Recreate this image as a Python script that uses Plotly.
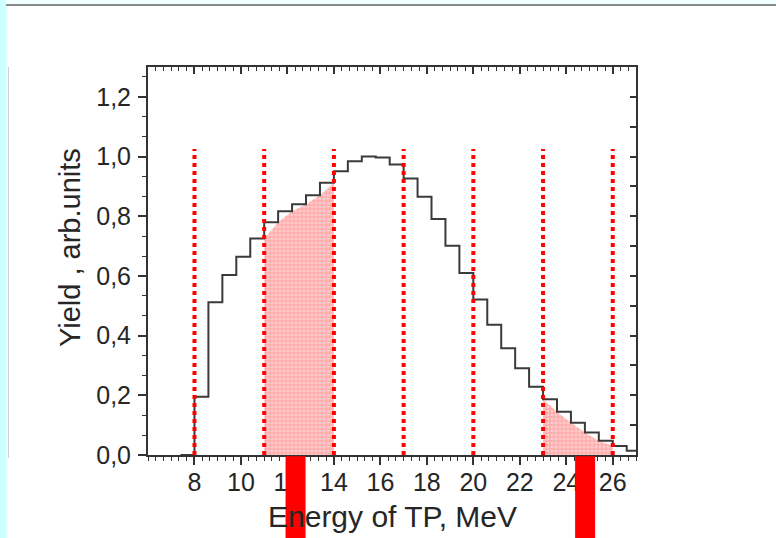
import numpy as np
import plotly.graph_objects as go

# ---------------- data ----------------
BIN_LEFT_EDGES = [8.0, 8.6, 9.2, 9.8, 10.4, 11.0, 11.6, 12.2, 12.8, 13.4,
                  14.0, 14.6, 15.2, 15.8, 16.4, 17.0, 17.6, 18.2, 18.8, 19.4,
                  20.0, 20.6, 21.2, 21.8, 22.4, 23.0, 23.6, 24.2, 24.8, 25.4,
                  26.0, 26.6]
BIN_WIDTH = 0.6
YIELD = [0.195, 0.512, 0.603, 0.664, 0.725, 0.780, 0.817, 0.840, 0.870, 0.912,
         0.951, 0.984, 1.000, 0.997, 0.973, 0.926, 0.865, 0.791, 0.701, 0.610,
         0.521, 0.436, 0.358, 0.291, 0.229, 0.187, 0.145, 0.108, 0.075, 0.048,
         0.030, 0.014]
REGION_EDGES = [8, 11, 14, 17, 20, 23, 26]
REGION_LINE_TOP = 1.025
SHADED_REGIONS = [(11, 14), (23, 26)]
ARROW_X = [12.35, 24.81]
ARROW_HALF_WIDTH = 0.43

X_TICKS = [8, 10, 12, 14, 16, 18, 20, 22, 24, 26]
X_TICK_TEXT = ["8", "10", "12", "14", "16", "18", "20", "22", "24", "26"]
Y_TICKS = [0.0, 0.2, 0.4, 0.6, 0.8, 1.0, 1.2]
Y_TICK_TEXT = ["0,0", "0,2", "0,4", "0,6", "0,8", "1,0", "1,2"]

X_TITLE = "Energy of TP, MeV"
Y_TITLE = "Yield , arb.units"

# ---------------- figure ----------------
FONT = "Liberation Sans, Arial, sans-serif"
TXT = "#262626"
AX = "#333333"

W, H = 776, 538
L, R, T, B = 148, 140, 67, 83


def px2paper_x(p):
    return (p - L) / (W - L - R)


def py2paper_y(p):
    return (H - B - p) / (H - T - B)


edges = list(BIN_LEFT_EDGES) + [round(BIN_LEFT_EDGES[-1] + BIN_WIDTH, 3)]
hist_x = [BIN_LEFT_EDGES[0] - BIN_WIDTH] + edges
hist_y = [0.0] + list(YIELD) + [YIELD[-1]]

fig = go.Figure()

# shaded regions (polygon through the inner corners of the staircase)
for (a, b) in SHADED_REGIONS:
    px, py = [], []
    for i, e in enumerate(edges[:-1]):
        if a - 1e-9 <= e <= b + 1e-9:
            left = YIELD[i - 1] if i > 0 else 0.0
            px.append(e)
            py.append(min(left, YIELD[i]))
    poly_x = [a] + px + [b, a]
    poly_y = [0] + py + [0, 0]
    fig.add_trace(go.Scatter(
        x=poly_x, y=poly_y, mode="lines", fill="toself",
        line=dict(width=0, color="rgba(0,0,0,0)"),
        fillcolor="#ffbcbc",
        fillpattern=dict(shape="+", fgcolor="#ff8080",
                         bgcolor="#ffcaca", size=4, solidity=0.45),
        hoverinfo="skip", showlegend=False))

# histogram
fig.add_trace(go.Scatter(
    x=hist_x, y=hist_y, mode="lines", line_shape="hv",
    line=dict(color="#3a3a3a", width=2), showlegend=False, hoverinfo="skip"))

# red dotted boundaries
for e in REGION_EDGES:
    fig.add_trace(go.Scatter(
        x=[e, e], y=[0, REGION_LINE_TOP], mode="lines",
        line=dict(color="#ff0000", width=4, dash="4px,4px"),
        showlegend=False, hoverinfo="skip"))

# invisible trace for secondary (mirror) axes
fig.add_trace(go.Scatter(x=[10], y=[0.5], xaxis="x2", yaxis="y2", mode="markers",
                         marker=dict(opacity=0), showlegend=False, hoverinfo="skip"))

# red arrow stems below the axis
for xc in ARROW_X:
    fig.add_shape(type="rect", xref="x", yref="paper",
                  x0=xc - ARROW_HALF_WIDTH, x1=xc + ARROW_HALF_WIDTH,
                  y0=-0.3, y1=-0.003, fillcolor="#ff0000", line=dict(width=0),
                  layer="above")

# slide decorations
fig.add_shape(type="rect", xref="paper", yref="paper",
              x0=px2paper_x(0), x1=px2paper_x(6), y0=py2paper_y(H), y1=py2paper_y(0),
              fillcolor="#ccffff", line=dict(width=0), layer="above")
fig.add_shape(type="rect", xref="paper", yref="paper",
              x0=px2paper_x(6), x1=px2paper_x(8), y0=py2paper_y(H), y1=py2paper_y(4),
              fillcolor="#e8ffff", line=dict(width=0), layer="above")
fig.add_shape(type="rect", xref="paper", yref="paper",
              x0=px2paper_x(6), x1=px2paper_x(W), y0=py2paper_y(4), y1=py2paper_y(0),
              fillcolor="#f0ffff", line=dict(width=0), layer="above")
fig.add_shape(type="line", xref="paper", yref="paper",
              x0=px2paper_x(6), x1=px2paper_x(W), y0=py2paper_y(5), y1=py2paper_y(5),
              line=dict(color="#8a8a8a", width=2), layer="above")
fig.add_shape(type="line", xref="paper", yref="paper",
              x0=px2paper_x(8.5), x1=px2paper_x(8.5), y0=py2paper_y(67), y1=py2paper_y(458),
              line=dict(color="#d0d0d0", width=1), layer="above")

# axis titles as annotations (positioned like the reference)
fig.add_annotation(text=Y_TITLE, xref="paper", yref="paper",
                   x=px2paper_x(70), y=py2paper_y(248), textangle=-90,
                   showarrow=False, xanchor="center", yanchor="middle",
                   font=dict(size=29, color=TXT, family=FONT))
fig.add_annotation(text=X_TITLE, xref="paper", yref="paper",
                   x=px2paper_x(392), y=py2paper_y(516),
                   showarrow=False, xanchor="center", yanchor="middle",
                   font=dict(size=30, color=TXT, family=FONT))

fig.update_layout(
    width=W, height=H,
    margin=dict(l=L, r=R, t=T, b=B, pad=0),
    paper_bgcolor="white", plot_bgcolor="white",
    font=dict(family=FONT, color=TXT, size=25),
    showlegend=False,
    xaxis=dict(range=[6, 27], tickvals=X_TICKS, ticktext=X_TICK_TEXT,
               ticks="outside", ticklen=8, tickwidth=1.5, tickcolor=AX,
               minor=dict(ticks="outside", dtick=1/3, tick0=8, ticklen=4, tickwidth=1.2, tickcolor=AX),
               showline=True, linecolor=AX, linewidth=2, showgrid=False, zeroline=False,
               tickfont=dict(size=25, color=TXT), ticklabelstandoff=-4),
    xaxis2=dict(range=[6, 27], overlaying="x", side="top", anchor="y",
                tickvals=X_TICKS, showticklabels=False,
                ticks="inside", ticklen=7, tickwidth=1.5, tickcolor=AX,
                minor=dict(ticks="inside", dtick=1/3, tick0=8, ticklen=4, tickwidth=1.2, tickcolor=AX),
                showline=True, linecolor=AX, linewidth=2, showgrid=False, zeroline=False),
    yaxis=dict(range=[0, 1.3], tickvals=Y_TICKS, ticktext=Y_TICK_TEXT,
               ticks="outside", ticklen=8, tickwidth=1.5, tickcolor=AX,
               minor=dict(ticks="outside", dtick=0.2/3, tick0=0, ticklen=4, tickwidth=1.2, tickcolor=AX),
               showline=True, linecolor=AX, linewidth=2, showgrid=False, zeroline=False,
               tickfont=dict(size=25, color=TXT), ticklabelstandoff=2),
    yaxis2=dict(range=[0, 1.3], overlaying="y", side="right", anchor="x",
                dtick=0.1, tick0=0, showticklabels=False,
                ticks="inside", ticklen=6, tickwidth=1.5, tickcolor=AX,
                showline=True, linecolor=AX, linewidth=2, showgrid=False, zeroline=False),
)

fig.write_html("out.html")
